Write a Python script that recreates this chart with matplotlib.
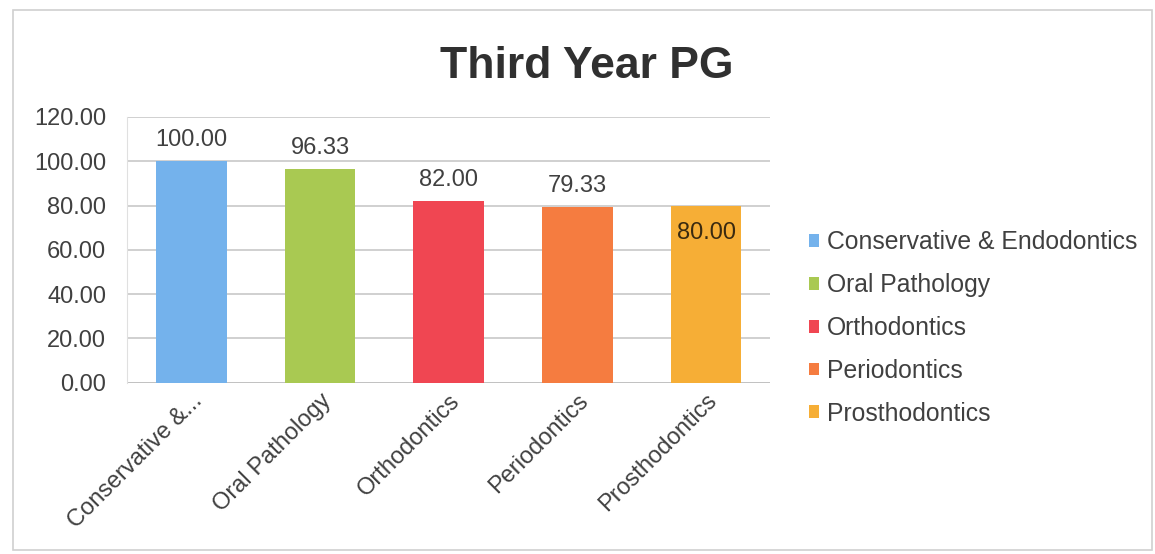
import matplotlib
matplotlib.use("Agg")
import matplotlib.pyplot as plt
from matplotlib.patches import Rectangle

categories = ["Conservative & Endodontics", "Oral Pathology", "Orthodontics",
              "Periodontics", "Prosthodontics"]
tick_labels = ["Conservative &...", "Oral Pathology", "Orthodontics",
               "Periodontics", "Prosthodontics"]
scores = [100.00, 96.33, 82.00, 79.33, 80.00]
value_labels = ["100.00", "96.33", "82.00", "79.33", "80.00"]
colors = ["#74B2EC", "#A9C952", "#F04652", "#F57C40", "#F6AE36"]

plt.rcParams["font.family"] = ["Liberation Sans", "DejaVu Sans"]
text_color = "#404040"

fig = plt.figure(figsize=(11.55, 5.54), dpi=100)
fig.patch.set_facecolor("white")

# outer chart border
fig.patches.append(Rectangle((13 / 1155, 4 / 554), 1139 / 1155, 540 / 554,
                             transform=fig.transFigure, fill=False,
                             edgecolor="#D0D0D0", linewidth=1.2))

ax = fig.add_axes([0.110, 0.309, 0.557, 0.480])
x = list(range(len(categories)))
bars = ax.bar(x, scores, width=0.55, color=colors, zorder=3)

ax.set_xlim(-0.5, len(categories) - 0.5)
ax.set_ylim(0, 120)
ax.set_yticks([0, 20, 40, 60, 80, 100, 120])
ax.set_yticklabels(["%.2f" % v for v in [0, 20, 40, 60, 80, 100, 120]])
ax.yaxis.grid(True, color="#C8C8C8", linewidth=1.2, zorder=0)
ax.set_axisbelow(True)
for s in ["top", "right", "bottom"]:
    ax.spines[s].set_visible(False)
ax.spines["left"].set_color("#E0E0E0")
ax.axhline(0, color="#BFBFBF", linewidth=1.2, zorder=2)
ax.tick_params(axis="both", length=0, labelsize=17, labelcolor=text_color)
ax.tick_params(axis="y", pad=15)
ax.set_xticks(x)
ax.set_xticklabels(tick_labels, rotation=45, ha="right", va="top",
                   rotation_mode="anchor")
ax.tick_params(axis="x", pad=5)

for i, (b, lab) in enumerate(zip(bars, value_labels)):
    h = b.get_height()
    if i == len(bars) - 1:
        # last label sits inside the bar, as in the original
        ax.text(b.get_x() + b.get_width() / 2, h - 7.5, lab, ha="center",
                va="top", fontsize=17, color="#3A2A10", zorder=4)
    else:
        ax.text(b.get_x() + b.get_width() / 2, h + 4.5, lab, ha="center",
                va="bottom", fontsize=17, color=text_color, zorder=4)

fig.text(0.508, 0.859, "Third Year PG", ha="center", va="baseline",
         fontsize=32, fontweight="bold", color="#303030")

fig.legend(bars, categories, loc="center left",
           bbox_to_anchor=(0.681, 0.408), frameon=False, fontsize=17.8,
           handlelength=0.42, handleheight=0.42, handletextpad=0.3,
           labelspacing=0.76, labelcolor=text_color)

fig.savefig("out.png", dpi=100, facecolor="white")
